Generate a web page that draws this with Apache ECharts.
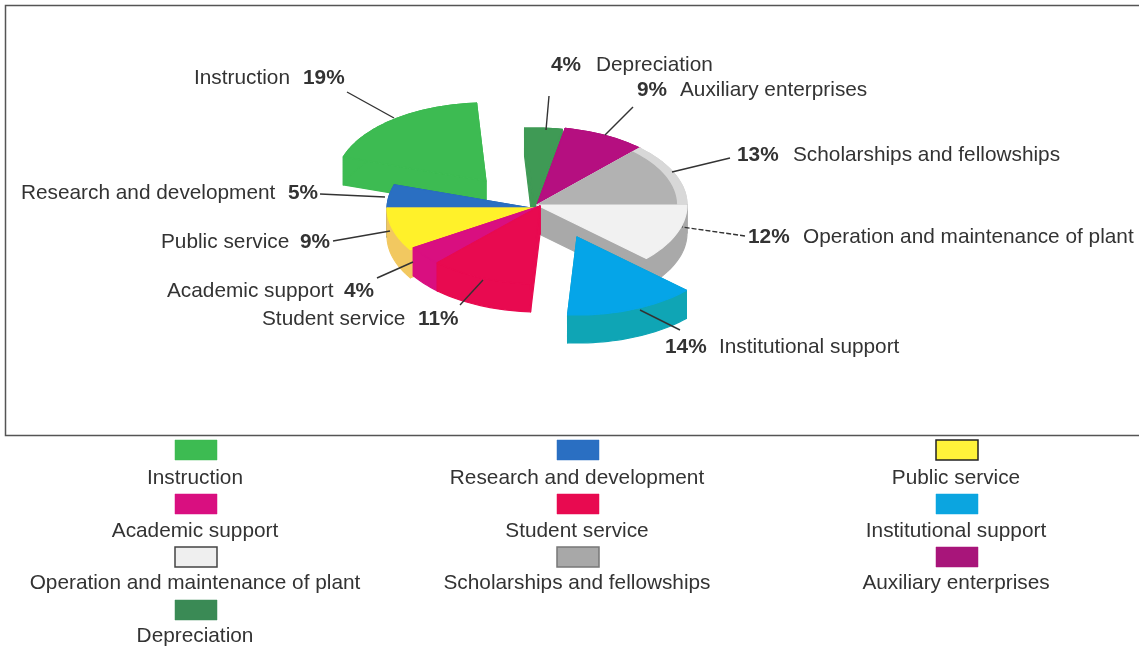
<!DOCTYPE html>
<html>
<head>
<meta charset="utf-8">
<style>html,body{margin:0;padding:0;background:#fff}#c{width:1139px;height:647px}</style>
<script src="https://cdn.jsdelivr.net/npm/echarts@6/dist/echarts.min.js"></script>
</head>
<body>
<div id="c"></div>
<script>
const categories = ['Instruction','Research and development','Public service','Academic support','Student service','Institutional support','Operation and maintenance of plant','Scholarships and fellowships','Auxiliary enterprises','Depreciation'];
const shares = [19,5,9,4,11,14,12,13,9,4];

const topColors  = ['#3dbb52','#2a6fc2','#fff12a','#d90f80','#e80a50','#05a5e8','#f1f1f1','#b2b2b2','#b50f80','#3f9a55'];
const sideColors = ['#3dbb52','#1f5fa8','#f2c860','#d90f80','#e80a50','#0fa5b5','#a9a9a9','#cfcfcf','#a00f70','#3f9a55'];
const rimColors  = {7:'#d8d8d8'};
const swatchColors = ['#3dbb52','#2a6fc2','#fff33a','#d90f80','#e80a50','#0ba5e0','#efefef','#a8a8a8','#a8157a','#3a8a55'];
const swatchBorder = [null,null,'#222',null,null,null,'#444','#777',null,null];

const CX = 537, CY = 205, RX = 150, RY = 78, DEPTH = 28, START = 93.6;
const explode = {0:[-51,-24], 1:[0,4], 2:[0,3], 3:[3,1], 4:[3,1], 5:[40,32], 9:[-3,1]};
const paintOrder = [0,9,8,7,6,1,2,3,4,5];

const labelLayout = [
 {name:[194,78], pct:[303,78], line:[[347,92],[394,118]]},
 {name:[21,193], pct:[288,193], line:[[320,194],[385,197]]},
 {name:[161,242], pct:[300,242], line:[[333,241],[390,231]]},
 {name:[167,291], pct:[344,291], line:[[377,278],[413,262]]},
 {name:[262,319], pct:[418,319], line:[[460,305],[483,280]]},
 {name:[719,347], pct:[665,347], line:[[680,330],[640,310]]},
 {name:[803,237], pct:[748,237], line:[[745,236],[682,227]], dashed:true},
 {name:[793,155], pct:[737,155], line:[[730,158],[672,172]]},
 {name:[680,90], pct:[637,90], line:[[633,107],[605,135]]},
 {name:[596,65], pct:[551,65], line:[[549,96],[546,130]]}
];
const legendCols = [195,577,956];
const legendRows = [[450,477],[504,530],[557,582],[610,635]];

const FONT = '"Liberation Sans", Arial, sans-serif';
const FS = '20.8px ';
const total = shares.reduce((a,b)=>a+b,0);
const startAngles = [];
shares.reduce((acc,v,i)=>{startAngles[i]=acc;return acc+v/total*360;},START);

function pt(t,ox,oy,dz,k){
  const r=t*Math.PI/180;
  return [CX+ox+RX*k*Math.cos(r), CY+oy-RY*k*Math.sin(r)+dz];
}
function arc(a,b,ox,oy,dz,k){
  const n=Math.max(4,Math.ceil(Math.abs(b-a)/2)),p=[];
  for(let j=0;j<=n;j++)p.push(pt(a+(b-a)*j/n,ox,oy,dz,k));
  return p;
}
function renderSlice(params,api){
  const idx=api.value(0), v=api.value(1);
  const a=startAngles[idx], b=a+v/total*360;
  const [ox,oy]=explode[idx]||[0,0];
  const apex=[CX+ox,CY+oy], apexLow=[CX+ox,CY+oy+DEPTH];
  const topArc=arc(a,b,ox,oy,0,1), lowArc=arc(a,b,ox,oy,DEPTH,1);
  const z2=paintOrder.indexOf(idx)*10;
  const poly=(points,fill,z)=>({type:'polygon',z2:z2+z,shape:{points},style:{fill,stroke:fill,lineWidth:1.2,lineJoin:'round'}});
  const children=[
    poly([apex,topArc[0],lowArc[0],apexLow],sideColors[idx],0),
    poly([apex,topArc[topArc.length-1],lowArc[lowArc.length-1],apexLow],sideColors[idx],1),
    poly(topArc.concat(lowArc.slice().reverse()),sideColors[idx],2)
  ];
  if(rimColors[idx]){
    children.push(poly([apex].concat(topArc),rimColors[idx],3));
    children.push(poly([apex].concat(arc(a,b,ox,oy,0,0.93)),topColors[idx],4));
  }else{
    children.push(poly([apex].concat(topArc),topColors[idx],3));
  }
  return {type:'group',children};
}

const graphics=[{type:'rect',z:0,shape:{x:5.5,y:5.5,width:1150,height:430},style:{fill:'#fff',stroke:'#555',lineWidth:1.5}}];
const txt=(text,x,y,extra)=>Object.assign({type:'text',z:20,x,y,style:Object.assign({text,fill:'#333',font:FS+FONT,textBaseline:'middle',verticalAlign:'middle'},extra||{})});
categories.forEach((name,i)=>{
  const L=labelLayout[i];
  graphics.push(txt(name,L.name[0],L.name[1]));
  graphics.push(txt(shares[i]+'%',L.pct[0],L.pct[1],{font:'bold '+FS+FONT}));
  graphics.push({type:'polyline',z:20,shape:{points:L.line},style:{stroke:'#333',lineWidth:1.4,fill:null,lineDash:L.dashed?[5,2]:null}});
  const col=legendCols[i%3], row=legendRows[Math.floor(i/3)];
  graphics.push({type:'rect',z:20,shape:{x:col-20,y:row[0]-10,width:42,height:20},
    style:{fill:swatchColors[i],stroke:swatchBorder[i]||swatchColors[i],lineWidth:swatchBorder[i]?1.5:0.5}});
  graphics.push(txt(name,col,row[1]+1,{textAlign:'center',align:'center'}));
});

const chart=echarts.init(document.getElementById('c'),null,{renderer:'canvas'});
chart.setOption({
  animation:false,
  backgroundColor:'#fff',
  graphic:graphics,
  series:[{
    type:'custom',
    coordinateSystem:'none',
    silent:true,
    z:10,
    renderItem:renderSlice,
    data:paintOrder.map(i=>({name:categories[i],value:[i,shares[i]]}))
  }]
});
</script>
</body>
</html>
